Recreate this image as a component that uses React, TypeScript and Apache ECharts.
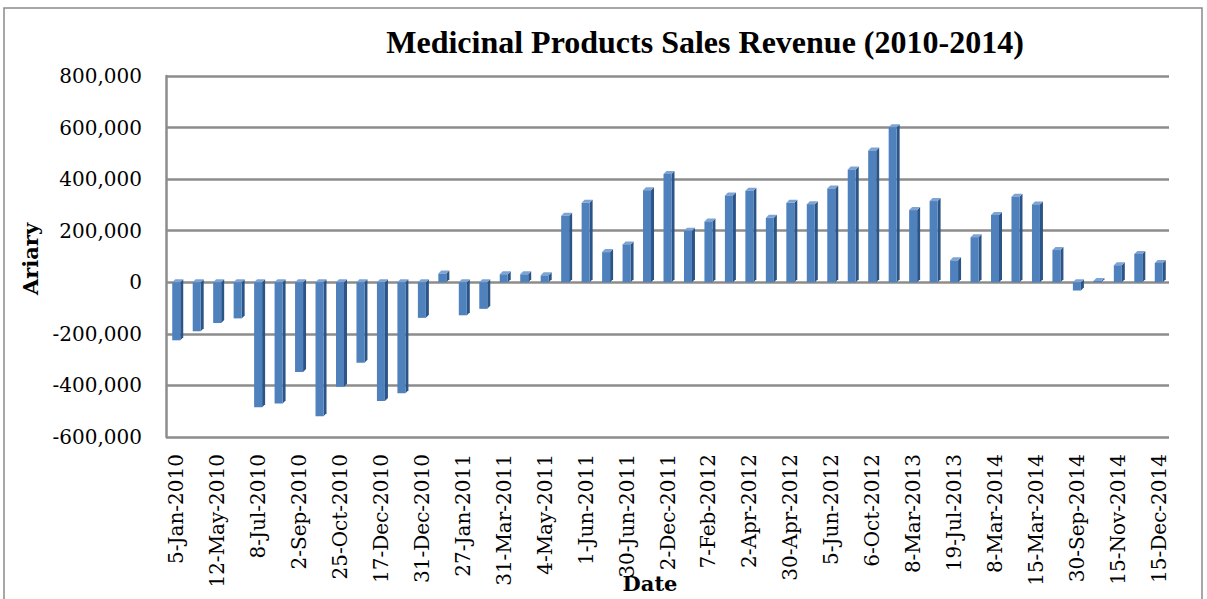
import React, { useEffect, useRef } from "react";
import * as echarts from "echarts";

const dates = [
  "5-Jan-2010", "", "12-May-2010", "", "8-Jul-2010", "", "2-Sep-2010", "",
  "25-Oct-2010", "", "17-Dec-2010", "", "31-Dec-2010", "", "27-Jan-2011", "",
  "31-Mar-2011", "", "4-May-2011", "", "1-Jun-2011", "", "30-Jun-2011", "",
  "2-Dec-2011", "", "7-Feb-2012", "", "2-Apr-2012", "", "30-Apr-2012", "",
  "5-Jun-2012", "", "6-Oct-2012", "", "8-Mar-2013", "", "19-Jul-2013", "",
  "8-Mar-2014", "", "15-Mar-2014", "", "30-Sep-2014", "", "15-Nov-2014", "",
  "15-Dec-2014",
];

const revenue = [
  -225000, -190000, -158000, -140000, -485000, -470000, -348000, -520000,
  -405000, -312000, -460000, -430000, -138000, 34000, -128000, -103000,
  31000, 31000, 27000, 258000, 308000, 117000, 147000, 357000,
  420000, 200000, 236000, 337000, 355000, 250000, 308000, 303000,
  364000, 437000, 511000, 601000, 280000, 315000, 85000, 175000,
  261000, 332000, 302000, 125000, -32000, 5000, 66000, 110000,
  75000,
];

const yTicks = { min: -600000, max: 800000, interval: 200000 };

const fmt = (v: number) => {
  const s = Math.abs(v).toString().replace(/\B(?=(\d{3})+(?!\d))/g, ",");
  return (v < 0 ? "-" : "") + s;
};

export default function App() {
  const ref = useRef<HTMLDivElement>(null);
  useEffect(() => {
    if (!ref.current) return;
    const chart = echarts.init(ref.current, null, { renderer: "svg" });
    const W = 8;
    const D = 3;
    const DY = 3;
    chart.setOption({
      animation: false,
      backgroundColor: "#ffffff",
      title: {
        text: "Medicinal Products Sales Revenue (2010-2014)",
        left: 700,
        top: 21,
        textAlign: "center",
        textStyle: {
          fontFamily: "Liberation Serif",
          fontWeight: "bold",
          fontSize: 32,
          color: "#000",
        },
      },
      graphic: [
        {
          type: "rect",
          shape: { x: 4, y: 8, width: 1198, height: 620 },
          style: { fill: "none", stroke: "#8a8a8a", lineWidth: 1.5 },
          silent: true,
        },
        {
          type: "text",
          x: 30,
          y: 259,
          rotation: Math.PI / 2,
          style: {
            text: "Ariary",
            fontFamily: "DejaVu Serif",
            fontWeight: "bold",
            fontSize: 21,
            fill: "#000",
            align: "center",
            verticalAlign: "middle",
          },
        },
        {
          type: "text",
          x: 650,
          y: 583,
          style: {
            text: "Date",
            fontFamily: "DejaVu Serif",
            fontWeight: "bold",
            fontSize: 21,
            fill: "#000",
            align: "center",
            verticalAlign: "middle",
          },
        },
      ],
      grid: { left: 166, right: 38, top: 76, bottom: 162 },
      xAxis: {
        type: "category",
        data: dates,
        axisLine: { show: false },
        axisTick: { show: false },
        axisLabel: {
          interval: 1,
          rotate: 90,
          margin: 17,
          fontFamily: "DejaVu Serif",
          fontSize: 20,
          color: "#000",
        },
      },
      yAxis: {
        type: "value",
        min: yTicks.min,
        max: yTicks.max,
        interval: yTicks.interval,
        axisLine: { show: true, lineStyle: { color: "#8c8c8c", width: 2.5 } },
        axisTick: { show: false },
        splitLine: { lineStyle: { color: "#8c8c8c", width: 2.5 } },
        axisLabel: {
          margin: 24,
          formatter: (v: number) => fmt(v),
          fontFamily: "DejaVu Serif",
          fontSize: 20,
          color: "#000",
        },
      },
      series: [
        {
          type: "custom",
          data: revenue.map((v, i) => [i, v]),
          encode: { x: 0, y: 1 },
          renderItem: (params: any, api: any) => {
            const idx = api.value(0);
            const val = api.value(1);
            const p = api.coord([idx, val]);
            const z = api.coord([idx, 0]);
            const x0 = p[0] - W / 2;
            const yTop = Math.min(p[1], z[1]);
            const yBot = Math.max(p[1], z[1]);
            return {
              type: "group",
              children: [
                {
                  type: "polygon",
                  shape: {
                    points: [
                      [x0 + W, yTop],
                      [x0 + W + D, yTop - DY],
                      [x0 + W + D, yBot - DY],
                      [x0 + W, yBot],
                    ],
                  },
                  style: { fill: "#2c5587" },
                },
                {
                  type: "polygon",
                  shape: {
                    points: [
                      [x0, yTop],
                      [x0 + D, yTop - DY],
                      [x0 + W + D, yTop - DY],
                      [x0 + W, yTop],
                    ],
                  },
                  style: { fill: "#7ea3d4" },
                },
                {
                  type: "rect",
                  shape: { x: x0, y: yTop, width: W, height: Math.max(yBot - yTop, 1) },
                  style: { fill: "#4f81bd" },
                },
              ],
            };
          },
        },
      ],
    });
    return () => chart.dispose();
  }, []);
  return (
    <div
      ref={ref}
      style={{ position: "fixed", left: 0, top: 0, width: 1207, height: 599 }}
    />
  );
}
